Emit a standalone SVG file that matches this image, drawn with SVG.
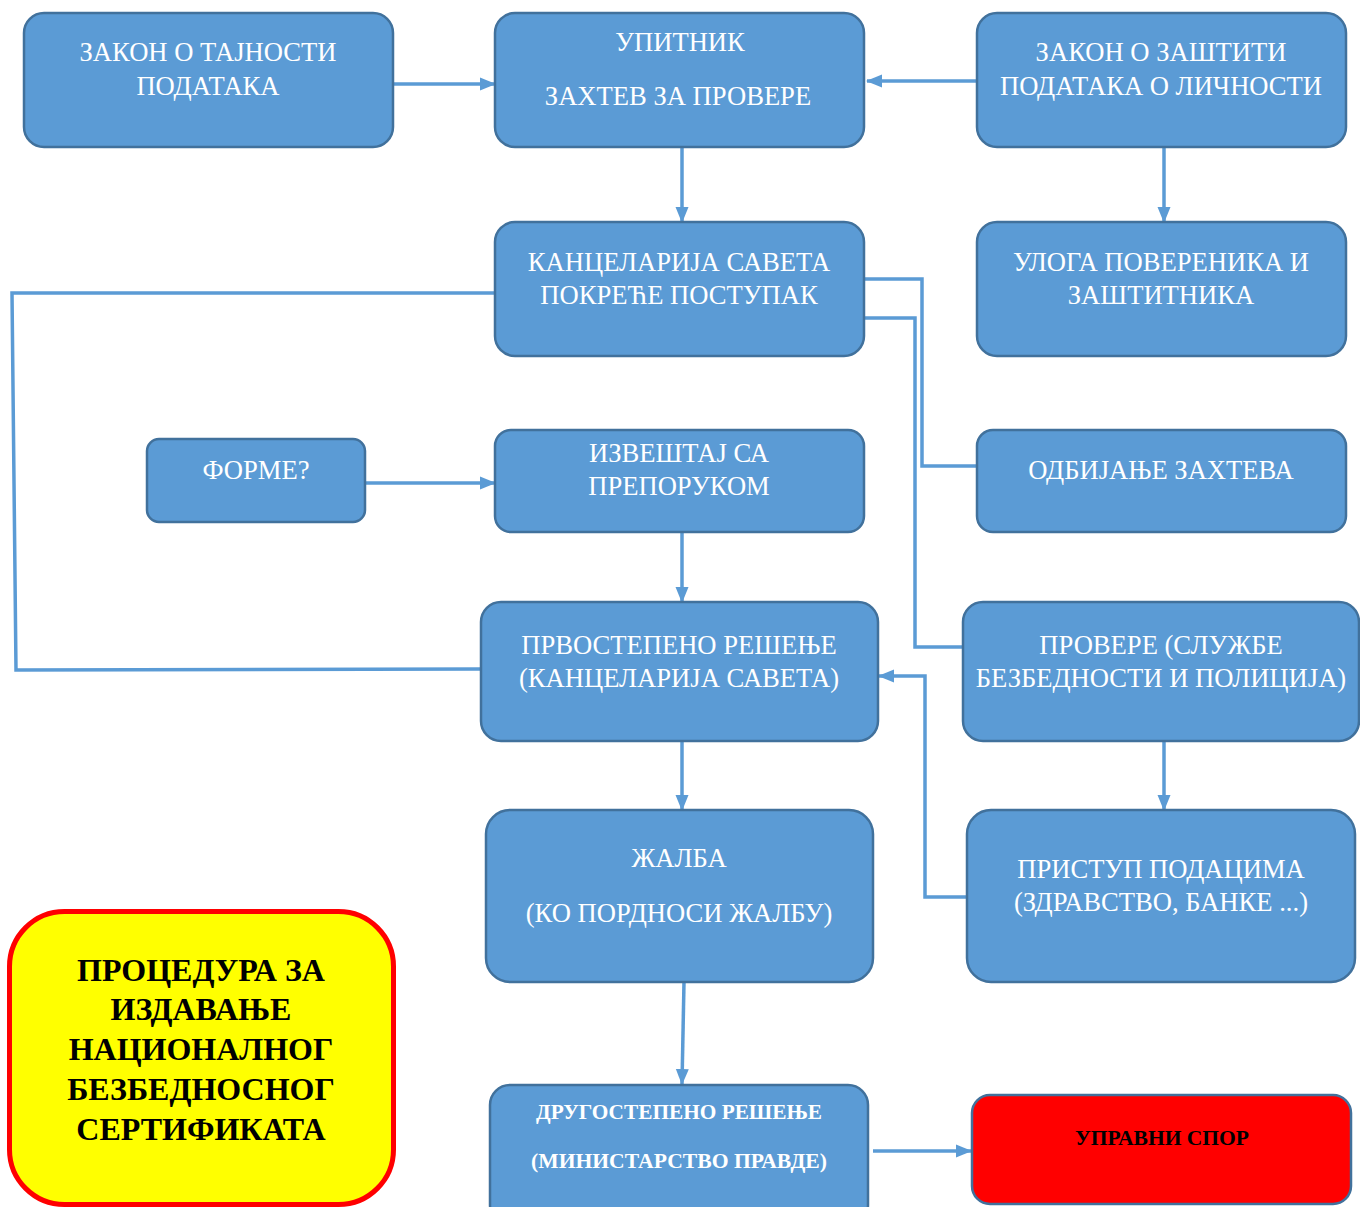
<svg xmlns="http://www.w3.org/2000/svg" width="1360" height="1207" viewBox="0 0 1360 1207">
<defs>
<marker id="ah" markerUnits="userSpaceOnUse" markerWidth="16" markerHeight="16" viewBox="0 0 16 16" refX="15" refY="8" orient="auto">
<path d="M0,1.5 L16,8 L0,14.5 Z" fill="#5B9BD5"/>
</marker>
<style>
.n{fill:#5B9BD5;stroke:#41719C;stroke-width:2.5}
.t{font-family:"Liberation Serif","Times New Roman",serif;font-size:26.6px;fill:#FFFFFF;text-anchor:middle}
.c{fill:none;stroke:#5B9BD5;stroke-width:3.5}
.a{marker-end:url(#ah)}
</style>
</defs>
<rect width="1360" height="1207" fill="#FFFFFF"/>
<g id="connectors">
<path class="c a" d="M393,84 L495,84"/>
<path class="c a" d="M977,81 L867,81"/>
<path class="c a" d="M682,147 L682,222"/>
<path class="c a" d="M1164,147 L1164,222"/>
<path class="c" d="M864,279 L922,279 L922,466 L977,466"/>
<path class="c" d="M864,318 L915,318 L915,647 L963,647"/>
<path class="c" d="M495,293 L12,293 L16,670 L481,669"/>
<path class="c a" d="M365,483 L495,483"/>
<path class="c a" d="M682,532 L682,602"/>
<path class="c a" d="M682,741 L682,810"/>
<path class="c a" d="M1164,741 L1164,810"/>
<path class="c a" d="M967,897 L925,897 L925,676 L879,676"/>
<path class="c a" d="M684,982 L682,1084"/>
<path class="c a" d="M873,1151 L971,1151"/>
</g>
<g id="n1"><rect class="n" x="24" y="13" width="369" height="134" rx="20"/>
<text class="t" x="208" y="61">ЗАКОН О ТАЈНОСТИ</text><text class="t" x="208" y="95">ПОДАТАКА</text></g>
<g id="n2"><rect class="n" x="495" y="13" width="369" height="134" rx="20"/>
<text class="t" x="680" y="51">УПИТНИК</text><text class="t" x="678" y="105">ЗАХТЕВ ЗА ПРОВЕРЕ</text></g>
<g id="n3"><rect class="n" x="977" y="13" width="369" height="134" rx="20"/>
<text class="t" x="1161" y="61">ЗАКОН О ЗАШТИТИ</text><text class="t" x="1161" y="95">ПОДАТАКА О ЛИЧНОСТИ</text></g>
<g id="n4"><rect class="n" x="495" y="222" width="369" height="134" rx="20"/>
<text class="t" x="679" y="271">КАНЦЕЛАРИЈА САВЕТА</text><text class="t" x="679" y="304">ПОКРЕЋЕ ПОСТУПАК</text></g>
<g id="n5"><rect class="n" x="977" y="222" width="369" height="134" rx="20"/>
<text class="t" x="1161" y="271">УЛОГА ПОВЕРЕНИКА И</text><text class="t" x="1161" y="304">ЗАШТИТНИКА</text></g>
<g id="n6"><rect class="n" x="147" y="439" width="218" height="83" rx="12"/>
<text class="t" x="256" y="479">ФОРМЕ?</text></g>
<g id="n7"><rect class="n" x="495" y="430" width="369" height="102" rx="16"/>
<text class="t" x="679" y="462">ИЗВЕШТАЈ СА</text><text class="t" x="679" y="495">ПРЕПОРУКОМ</text></g>
<g id="n8"><rect class="n" x="977" y="430" width="369" height="102" rx="16"/>
<text class="t" x="1161" y="479">ОДБИЈАЊЕ ЗАХТЕВА</text></g>
<g id="n9"><rect class="n" x="481" y="602" width="397" height="139" rx="20"/>
<text class="t" x="679" y="654">ПРВОСТЕПЕНО РЕШЕЊЕ</text><text class="t" x="679" y="687">(КАНЦЕЛАРИЈА САВЕТА)</text></g>
<g id="n10"><rect class="n" x="963" y="602" width="396" height="139" rx="20"/>
<text class="t" x="1161" y="654">ПРОВЕРЕ (СЛУЖБЕ</text><text class="t" x="1161" y="687">БЕЗБЕДНОСТИ И ПОЛИЦИЈА)</text></g>
<g id="n11"><rect class="n" x="486" y="810" width="387" height="172" rx="24"/>
<text class="t" x="679" y="867">ЖАЛБА</text><text class="t" x="679" y="922">(КО ПОРДНОСИ ЖАЛБУ)</text></g>
<g id="n12"><rect class="n" x="967" y="810" width="388" height="172" rx="24"/>
<text class="t" x="1161" y="878">ПРИСТУП ПОДАЦИМА</text><text class="t" x="1161" y="911">(ЗДРАВСТВО, БАНКЕ ...)</text></g>
<g id="n13"><rect x="9.5" y="911.5" width="384" height="293" rx="55" fill="#FFFF00" stroke="#FF0000" stroke-width="5"/>
<g font-family="'Liberation Serif','Times New Roman',serif" font-size="32" font-weight="bold" fill="#000000" text-anchor="middle">
<text x="201" y="981">ПРОЦЕДУРА ЗА</text>
<text x="201" y="1020">ИЗДАВАЊЕ</text>
<text x="201" y="1060">НАЦИОНАЛНОГ</text>
<text x="201" y="1100">БЕЗБЕДНОСНОГ</text>
<text x="201" y="1140">СЕРТИФИКАТА</text>
</g></g>
<g id="n14"><rect class="n" x="490" y="1085" width="378" height="140" rx="20"/>
<g font-family="'Liberation Serif','Times New Roman',serif" font-size="21" font-weight="bold" fill="#FFFFFF" text-anchor="middle">
<text x="679" y="1119" textLength="286" lengthAdjust="spacingAndGlyphs">ДРУГОСТЕПЕНО РЕШЕЊЕ</text>
<text x="679" y="1168" textLength="296" lengthAdjust="spacingAndGlyphs">(МИНИСТАРСТВО ПРАВДЕ)</text>
</g></g>
<g id="n15"><rect x="972" y="1095" width="379" height="109" rx="18" fill="#FF0000" stroke="#41719C" stroke-width="2.5"/>
<text x="1162" y="1145" font-family="'Liberation Serif','Times New Roman',serif" font-size="20" font-weight="bold" fill="#000000" text-anchor="middle" textLength="174" lengthAdjust="spacingAndGlyphs">УПРАВНИ СПОР</text></g>
</svg>
